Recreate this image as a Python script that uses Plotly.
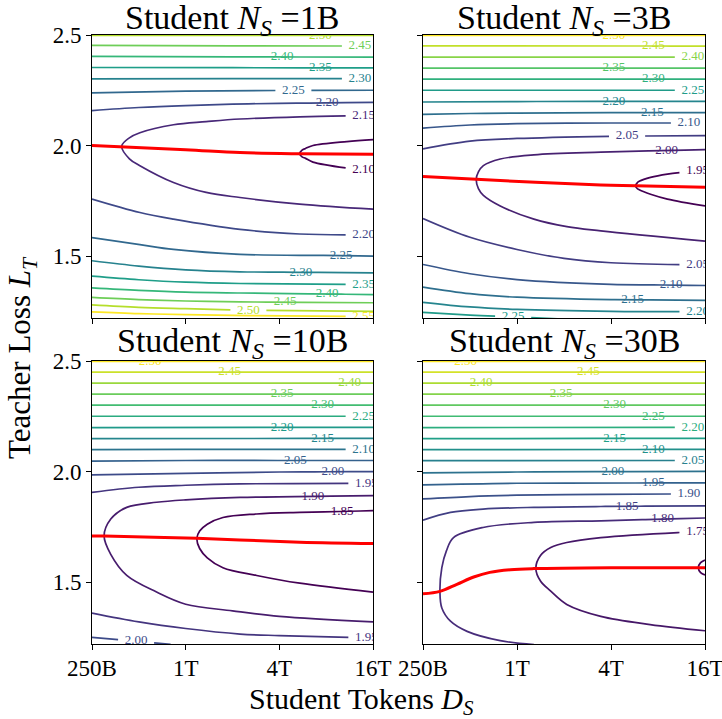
import numpy as np
import plotly.graph_objects as go
from plotly.colors import sample_colorscale

# ---------------- data ----------------
TOKEN_TICKS = [250, 1000, 4000, 16000]          # student tokens, billions
TOKEN_TICK_TEXT = ["250B", "1T", "4T", "16T"]
LOSS_TICKS = [1.5, 2.0, 2.5]
LOSS_TICK_TEXT = ["1.5", "2.0", "2.5"]
STUDENT_SIZES = ["1B", "3B", "10B", "30B"]

# Panel 1 (N_S = 1B): contour lines of student loss (x = tokens in B, y = teacher loss)
P1_LEVELS = [2.50, 2.45, 2.40, 2.35, 2.30, 2.25, 2.20, 2.15, 2.10,
             2.20, 2.25, 2.30, 2.35, 2.40, 2.45, 2.50, 2.55]
P1_XS = [[250, 16000], [250, 2000, 16000], [250, 2000, 16000], [250, 2000, 16000],
         [250, 2000, 16000], [250, 1000, 4000, 16000], [250, 500, 1000, 2000, 4000, 16000],
         [16000, 5400, 2235, 1355, 835, 508, 435, 388, 435, 508, 835, 1355, 2235, 5400, 16000],
         [16000, 10870, 6580, 5900, 5600, 5400, 5600, 5900, 6580, 10870, 16000],
         [250, 508, 835, 2235, 5400, 16000], [250, 508, 835, 2235, 16000],
         [250, 500, 1000, 2235, 16000], [250, 500, 1000, 2235, 16000],
         [250, 500, 1000, 2235, 16000], [250, 500, 1000, 2235, 16000],
         [250, 500, 1000, 2530, 16000], [250, 500, 1000, 2530, 16000]]
P1_YS = [[2.498, 2.498], [2.453, 2.451, 2.450], [2.403, 2.401, 2.400], [2.353, 2.352, 2.351],
         [2.302, 2.303, 2.303], [2.238, 2.246, 2.249, 2.250], [2.158, 2.172, 2.181, 2.187, 2.191, 2.195],
         [2.136, 2.130, 2.120, 2.108, 2.094, 2.058, 2.035, 1.997, 1.940, 1.909, 1.833, 1.788, 1.765, 1.735, 1.712],
         [2.027, 2.018, 2.000, 1.987, 1.979, 1.963, 1.949, 1.942, 1.925, 1.898, 1.886],
         [1.758, 1.697, 1.667, 1.621, 1.600, 1.594], [1.584, 1.552, 1.530, 1.508, 1.500],
         [1.479, 1.455, 1.438, 1.429, 1.424], [1.409, 1.393, 1.382, 1.376, 1.371],
         [1.356, 1.345, 1.337, 1.333, 1.326], [1.313, 1.303, 1.297, 1.293, 1.289],
         [1.279, 1.268, 1.262, 1.255, 1.250], [1.248, 1.240, 1.235, 1.231, 1.226]]
P1_OPT_X = [250, 1000, 2235, 5400, 16000]
P1_OPT_Y = [2.000, 1.981, 1.968, 1.963, 1.961]

# Panel 2 (N_S = 3B)
P2_LEVELS = [2.50, 2.45, 2.40, 2.35, 2.30, 2.25, 2.20, 2.15, 2.10, 2.05, 2.00, 1.95,
             2.05, 2.10, 2.15, 2.20, 2.25]
P2_XS = [[250, 16000], [250, 16000], [250, 16000], [250, 16000], [250, 16000], [250, 16000],
         [250, 1000, 16000], [250, 500, 1000, 4000, 16000], [250, 500, 1000, 4000, 16000],
         [250, 500, 1000, 4000, 16000],
         [16000, 3442, 1283, 781, 609, 566, 548, 566, 609, 781, 1283, 2088, 3442, 16000],
         [16000, 9190, 7168, 6063, 5900, 5727, 5900, 6063, 7168, 9190, 16000],
         [250, 500, 1000, 2000, 4000, 16000], [250, 500, 1000, 4000, 16000],
         [250, 500, 1000, 4000, 16000], [250, 500, 1000, 4000, 16000], [250, 500, 1000, 2000]]
P2_YS = [[2.498, 2.498], [2.451, 2.450], [2.400, 2.400], [2.350, 2.350], [2.300, 2.300], [2.250, 2.250],
         [2.197, 2.199, 2.200], [2.141, 2.145, 2.147, 2.149, 2.149], [2.079, 2.093, 2.099, 2.102, 2.102],
         [1.985, 2.020, 2.032, 2.042, 2.045],
         [1.982, 1.970, 1.958, 1.939, 1.909, 1.881, 1.847, 1.805, 1.775, 1.727, 1.667, 1.633, 1.614, 1.568],
         [1.890, 1.871, 1.856, 1.838, 1.832, 1.818, 1.805, 1.800, 1.780, 1.758, 1.727],
         [1.670, 1.585, 1.530, 1.490, 1.470, 1.458], [1.462, 1.420, 1.394, 1.372, 1.367],
         [1.360, 1.330, 1.314, 1.303, 1.300], [1.291, 1.270, 1.259, 1.250, 1.248], [1.245, 1.233, 1.224, 1.215]]
P2_OPT_X = [250, 548, 3442, 5727, 16000]
P2_OPT_Y = [1.860, 1.847, 1.821, 1.818, 1.811]

# Panel 3 (N_S = 10B)
P3_LEVELS = [2.50, 2.45, 2.40, 2.35, 2.30, 2.25, 2.20, 2.15, 2.10, 2.05, 2.00, 1.95, 1.90, 1.85,
             1.95, 2.00]
P3_XS = [[250, 16000], [250, 16000], [250, 16000], [250, 16000], [250, 16000], [250, 16000],
         [250, 16000], [250, 16000], [250, 1000, 16000], [250, 1000, 16000],
         [250, 1000, 4000, 16000], [250, 500, 1000, 2235, 16000],
         [16000, 2235, 1000, 650, 418, 330, 299, 330, 418, 650, 1000, 2000, 4000, 16000],
         [16000, 5418, 2860, 1736, 1377, 1230, 1180, 1230, 1377, 1736, 2860, 5418, 16000],
         [250, 500, 1000, 2235, 4000, 16000], [250, 500, 800]]
P3_YS = [[2.498, 2.498], [2.450, 2.450], [2.400, 2.400], [2.350, 2.350], [2.300, 2.300], [2.250, 2.250],
         [2.199, 2.200], [2.149, 2.150], [2.099, 2.100, 2.100], [2.047, 2.050, 2.050],
         [1.985, 1.992, 1.998, 2.000], [1.906, 1.929, 1.938, 1.944, 1.947],
         [1.891, 1.883, 1.872, 1.861, 1.838, 1.785, 1.709, 1.625, 1.530, 1.455, 1.400, 1.370, 1.345, 1.320],
         [1.823, 1.815, 1.808, 1.792, 1.762, 1.731, 1.698, 1.652, 1.610, 1.565, 1.530, 1.495, 1.455],
         [1.360, 1.320, 1.290, 1.265, 1.258, 1.247], [1.250, 1.232, 1.218]]
P3_OPT_X = [250, 299, 1180, 5418, 16000]
P3_OPT_Y = [1.709, 1.708, 1.698, 1.680, 1.674]

# Panel 4 (N_S = 30B)
P4_LEVELS = [2.50, 2.45, 2.40, 2.35, 2.30, 2.25, 2.20, 2.15, 2.10, 2.05, 2.00, 1.95, 1.90, 1.85,
             1.80, 1.75, 1.70]
P4_XS = [[250, 16000], [250, 16000], [250, 16000], [250, 16000], [250, 16000], [250, 16000],
         [250, 16000], [250, 16000], [250, 16000], [250, 16000], [250, 1000, 16000], [250, 1000, 16000],
         [250, 500, 1000, 3442, 16000], [250, 375, 606, 1283, 3442, 16000],
         [16000, 3442, 1283, 606, 392, 353, 330, 321, 330, 375, 479, 781, 1283],
         [16000, 10725, 3442, 2083, 1645, 1414, 1320, 1414, 1645, 2083, 3442, 7130, 16000],
         [16000, 15000, 14500, 15000, 16000]]
P4_YS = [[2.498, 2.498], [2.450, 2.450], [2.400, 2.400], [2.350, 2.350], [2.300, 2.300], [2.250, 2.250],
         [2.199, 2.200], [2.149, 2.150], [2.099, 2.100], [2.049, 2.050], [1.994, 1.998, 2.001],
         [1.940, 1.947, 1.949], [1.876, 1.887, 1.893, 1.897, 1.899], [1.780, 1.815, 1.830, 1.838, 1.842, 1.845],
         [1.790, 1.777, 1.770, 1.747, 1.701, 1.641, 1.565, 1.455, 1.383, 1.323, 1.277, 1.235, 1.217],
         [1.728, 1.724, 1.701, 1.679, 1.656, 1.620, 1.562, 1.505, 1.459, 1.399, 1.345, 1.308, 1.280],
         [1.600, 1.588, 1.565, 1.543, 1.532]]
P4_OPT_X = [250, 321, 412, 528, 669, 906, 1283, 4000, 16000]
P4_OPT_Y = [1.447, 1.458, 1.490, 1.523, 1.544, 1.556, 1.561, 1.565, 1.565]

# ---------------- label placement (style, not data) ----------------
P1_LABEL_AT = [7350, 13180, 4170, 7350, 13180, 4925, 8120, 13930, 13930,
               13930, 10000, 5500, 13930, 8120, 4350, 2530, 13930]
P1_LABEL_ARM = ["", "", "", "", "", "", "", "top", "bot", "", "", "", "", "", "", "", ""]
P2_LABEL_AT = [4170, 7470, 13380, 4170, 7470, 13380, 4170, 7350, 12630, 5070, 9080, 14330,
               14330, 9720, 5500, 14330, 945]
P2_LABEL_ARM = ["", "", "", "", "", "", "", "", "", "", "top", "top", "", "", "", "", ""]
P3_LABEL_AT = [590, 1920, 11330, 4170, 7590, 13930, 4170, 7590, 13930, 5070, 8820, 14500,
               6580, 10130, 14500, 480]
P3_LABEL_ARM = ["", "", "", "", "", "", "", "", "", "", "", "", "top", "top", "", ""]
P4_LABEL_AT = [468, 2870, 590, 1920, 4220, 7470, 13380, 4220, 7470, 13380, 4110, 7470, 12630,
               5070, 8570, 14330, None]
P4_LABEL_ARM = ["", "", "", "", "", "", "", "", "", "", "", "", "", "", "top", "top", ""]

PANELS = [
    (P1_LEVELS, P1_XS, P1_YS, P1_OPT_X, P1_OPT_Y, P1_LABEL_AT, P1_LABEL_ARM),
    (P2_LEVELS, P2_XS, P2_YS, P2_OPT_X, P2_OPT_Y, P2_LABEL_AT, P2_LABEL_ARM),
    (P3_LEVELS, P3_XS, P3_YS, P3_OPT_X, P3_OPT_Y, P3_LABEL_AT, P3_LABEL_ARM),
    (P4_LEVELS, P4_XS, P4_YS, P4_OPT_X, P4_OPT_Y, P4_LABEL_AT, P4_LABEL_ARM),
]

W, H = 722, 719
X_DOM = [[92 / W, 373 / W], [423 / W, 705 / W]]
Y_DOM = [[(H - 318) / H, (H - 35) / H], [(H - 644) / H, (H - 361) / H]]
PX_PER_DEC = 281.0 / np.log10(64.0)
HALF_GAP_PX = 18.0
FONT = "Liberation Serif"


def cut_for_label(xs, ys, at, arm):
    """Split a contour path to leave room for its inline label."""
    if at is None:
        return list(xs), list(ys), None
    lx = np.log10(np.asarray(xs, float))
    y = np.asarray(ys, float)
    n = len(lx)
    nose = int(np.argmin(lx))
    if 0 < nose < n - 1:
        branch = set(range(0, nose + 1)) if arm == "top" else set(range(nose, n))
    else:
        branch = set(range(n))
    bi = sorted(branch)
    bx, by = lx[bi], y[bi]
    order = np.argsort(bx)
    la = np.log10(at)
    yl = float(np.interp(la, bx[order], by[order]))
    hw = HALF_GAP_PX / PX_PER_DEC
    lo, hi = la - hw, la + hw
    pts = []
    for i in range(n):
        inside = (i in branch) and (lo < lx[i] < hi)
        pts.append((lx[i], y[i], inside))
        if i < n - 1 and i in branch and (i + 1) in branch:
            ts = []
            for b in (lo, hi):
                d = lx[i + 1] - lx[i]
                if d != 0:
                    t = (b - lx[i]) / d
                    if 0 < t < 1:
                        ts.append(t)
            for t in sorted(ts):
                pts.append((lx[i] + t * (lx[i + 1] - lx[i]), y[i] + t * (y[i + 1] - y[i]), False))
    ox, oy = [], []
    for px, py, inside in pts:
        if inside:
            if ox and ox[-1] is not None:
                ox.append(None)
                oy.append(None)
        else:
            ox.append(10 ** px)
            oy.append(py)
    return ox, oy, (at, yl)


fig = go.Figure()
layout_axes = {}
for p, (levels, xs_all, ys_all, ox, oy, lab_at, lab_arm) in enumerate(PANELS):
    r, c = divmod(p, 2)
    sfx = "" if p == 0 else str(p + 1)
    xref, yref = "x" + sfx, "y" + sfx
    vmin, vmax = min(levels), max(levels)
    for lvl, xs, ys, at, arm in zip(levels, xs_all, ys_all, lab_at, lab_arm):
        col = sample_colorscale("Viridis", [(lvl - vmin) / (vmax - vmin)])[0]
        px_, py_, lab = cut_for_label(xs, ys, at, arm)
        fig.add_trace(go.Scatter(x=px_, y=py_, mode="lines", xaxis=xref, yaxis=yref,
                                 line=dict(color=col, width=1.7, shape="spline", smoothing=1.0),
                                 connectgaps=False, showlegend=False, hoverinfo="skip"))
        if lab is not None:
            fig.add_trace(go.Scatter(x=[lab[0]], y=[lab[1]], mode="text", text=[f"{lvl:.2f}"],
                                     textposition="middle center", xaxis=xref, yaxis=yref,
                                     textfont=dict(family=FONT, size=13, color=col),
                                     cliponaxis=True, showlegend=False, hoverinfo="skip"))
    fig.add_trace(go.Scatter(x=ox, y=oy, mode="lines", xaxis=xref, yaxis=yref,
                             line=dict(color="red", width=3, shape="spline"),
                             showlegend=False, hoverinfo="skip"))
    layout_axes["xaxis" + sfx] = dict(
        domain=X_DOM[c], anchor=yref, type="log",
        range=[np.log10(250), np.log10(16000)],
        tickmode="array", tickvals=TOKEN_TICKS, ticktext=TOKEN_TICK_TEXT,
        showticklabels=(r == 1), ticks="outside", ticklen=5, tickwidth=1, tickcolor="black",
        ticklabelstandoff=-2, ticklabeloverflow="allow",
        showline=True, linecolor="black", linewidth=1, mirror=True,
        showgrid=False, zeroline=False, automargin=False,
        tickfont=dict(family=FONT, size=23, color="black"))
    layout_axes["yaxis" + sfx] = dict(
        domain=Y_DOM[r], anchor=xref, range=[1.22, 2.5],
        tickmode="array", tickvals=LOSS_TICKS, ticktext=LOSS_TICK_TEXT,
        showticklabels=(c == 0), ticks="outside", ticklen=5, tickwidth=1, tickcolor="black",
        ticklabeloverflow="allow",
        showline=True, linecolor="black", linewidth=1, mirror=True,
        showgrid=False, zeroline=False, automargin=False,
        tickfont=dict(family=FONT, size=23, color="black"))

annotations = []
for p, size in enumerate(STUDENT_SIZES):
    r, c = divmod(p, 2)
    xc = (X_DOM[c][0] + X_DOM[c][1]) / 2
    yc = (H - 20) / H if r == 0 else (H - 343) / H
    annotations.append(dict(text=f"Student <i>N</i><sub><i>S</i></sub> =" + size,
                            x=xc, y=yc, xref="paper", yref="paper", showarrow=False,
                            xanchor="center", yanchor="middle",
                            font=dict(family=FONT, size=34, color="black")))
annotations.append(dict(text="Teacher Loss <i>L</i><sub><i>T</i></sub>", x=22 / W, y=(H - 358) / H,
                        xref="paper", yref="paper", showarrow=False, textangle=-90,
                        xanchor="center", yanchor="middle",
                        font=dict(family=FONT, size=31, color="black")))
annotations.append(dict(text="Student Tokens <i>D</i><sub><i>S</i></sub>", x=361 / W, y=(H - 701) / H,
                        xref="paper", yref="paper", showarrow=False,
                        xanchor="center", yanchor="middle",
                        font=dict(family=FONT, size=30, color="black")))

fig.update_layout(template="none", width=W, height=H, margin=dict(l=0, r=0, t=0, b=0),
                  paper_bgcolor="white", plot_bgcolor="white", showlegend=False,
                  font=dict(family=FONT), annotations=annotations, **layout_axes)
fig.write_html("out.html", config={"displayModeBar": False})

# remove the browser's default page margin so the figure sits at the window origin
with open("out.html", "r", encoding="utf-8") as fh:
    html = fh.read()
html = html.replace("<head>", "<head><style>html,body{margin:0;padding:0;overflow:hidden;}</style>", 1)
with open("out.html", "w", encoding="utf-8") as fh:
    fh.write(html)
